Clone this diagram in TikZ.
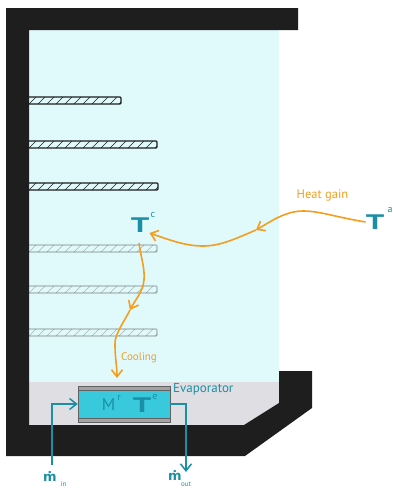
\documentclass[tikz,border=0pt]{standalone}
\usepackage{fontspec}
\setmainfont{PT Sans}
\newfontfamily\dotfont{DejaVu Sans}
\usepackage{xcolor}
\usetikzlibrary{arrows.meta,positioning}
\definecolor{fzWall}{HTML}{1E1E1E}
\definecolor{fzCold}{HTML}{E0F9FB}
\definecolor{fzFloor}{HTML}{DEDEE3}
\definecolor{fzTeal}{HTML}{1A8FA6}
\definecolor{fzOrange}{HTML}{F59E1E}
\definecolor{fzCoil}{HTML}{38C9DC}
\definecolor{fzBand}{HTML}{A3A3A3}
\newcommand{\wideT}{\scalebox{1.55}[1]{T}}

\begin{document}
\begin{tikzpicture}[
  x=1pt, y=-1pt,
  sym/.style={text=fzTeal, inner sep=0pt, font=\bfseries\fontsize{21}{21}\selectfont},
  small/.style={text=fzTeal, inner sep=0pt, font=\fontsize{10}{10}\selectfont},
  sub/.style={text=fzTeal, inner sep=0pt, font=\fontsize{7}{7}\selectfont},
  rate/.style={text=fzTeal, inner sep=0pt, font=\dotfont\bfseries\fontsize{13}{13}\selectfont},
  lab/.style={inner sep=0pt, font=\fontsize{11}{11}\selectfont},
  band/.style={draw=fzWall!70, line width=0.5pt, fill=fzBand, minimum width=92pt,
               minimum height=4pt, inner sep=0pt},
  heat/.style={-{Straight Barb[length=7pt,width=11pt]}, line width=1.6pt, fzOrange},
  flow/.style={-{Straight Barb[length=7pt,width=11pt]}, line width=1.5pt, fzTeal}
]
  \useasboundingbox (0,0) rectangle (393,488);

  \fill[fzCold] (29,30) rectangle (279,382);
  \fill[fzFloor] (29,382) -- (279,382) -- (279,403) -- (244,425) -- (29,425) -- cycle;
  \fill[fzWall] (6,8) -- (298,8) -- (298,30) -- (29,30) -- (29,425) -- (244,425)
    -- (279,403) -- (279,371) -- (312,371) -- (312,408) -- (245,456) -- (6,456) -- cycle;

  \foreach \ytop/\xend/\fade in {97/121/100,141/157/100,183/158/100,245/157/30,286/157/30,329/157/30} {
    \begin{scope}[opacity=\fade/100]
      \begin{scope}
        \clip (29,\ytop) rectangle (\xend,\ytop+7);
        \foreach \xx in {20,29,...,165}
          \draw[fzWall, line width=0.5pt] (\xx,\ytop+7) -- (\xx+7,\ytop);
      \end{scope}
      \draw[fzWall, line width=1.2pt, rounded corners=1pt] (28,\ytop) -- (\xend,\ytop) -- (\xend,\ytop+7) -- (28,\ytop+7);
    \end{scope}
  }

  \node[draw=fzWall!70, line width=0.5pt, fill=fzCoil, minimum width=92pt, minimum height=36pt, inner sep=0pt] (coil) at (124,404) {};
  \node[band] (coilTop) at (124,388) {};
  \node[band] (coilBot) at (124,420) {};

  \node[sym] (Tc) at (140,225.5) {\wideT};
  \node[small] (Tcsup) at (153,215) {c};
  \node[sym] (Ta) at (375,222) {\wideT};
  \node[small] (Tasup) at (390,210) {a};
  \node[sym, font=\fontsize{17}{17}\selectfont] (Mr) at (108.5,405) {M};
  \node[small] (Mrsup) at (119,398) {r};
  \node[sym] (Te) at (142,405) {\wideT};
  \node[small] (Tesup) at (155,397) {e};

  \node[lab, text=fzTeal, anchor=west, font=\fontsize{13}{13}\selectfont] (evaLabel) at (173,389) {Evaporator};
  \node[lab, text=fzOrange, font=\fontsize{12.5}{12.5}\selectfont] (heatLabel) at (322.5,195) {Heat gain};
  \node[lab, text=fzOrange] (coolLabel) at (139,358) {Cooling};

  \node[rate] (mIn) at (50,477) {ṁ};
  \node[sub] (mInSub) at (63.5,484.5) {in};
  \node[rate] (mOut) at (175,476) {ṁ};
  \node[sub] (mOutSub) at (186,484.5) {out};

  \coordinate (inStart) at (52,465);
  \coordinate (heatMid) at (256,230);
  \coordinate (coolMid) at (130,310);
  \coordinate (coolEnd) at (117,378);
  \coordinate (outEnd) at (186,472);

  \draw[heat] (Ta.west) .. controls (335,217) and (320,211) .. (303,211)
    .. controls (285,211) and (270,222) .. (heatMid);
  \draw[heat] (heatMid) .. controls (235,239) and (220,246) .. (203,246)
    .. controls (185,246) and (170,240) .. (Tc.south east);
  \draw[heat] (139,243) .. controls (141,258) and (145,268) .. (144,280)
    .. controls (143,292) and (135,300) .. (coolMid);
  \draw[heat] (coolMid) .. controls (124,322) and (114,335) .. (115,345)
    .. controls (115,358) and (117,366) .. (coolEnd);
  \draw[flow] (inStart) |- (coil.west);
  \draw[flow] (coil.east) -| (outEnd);
\end{tikzpicture}
\end{document}
